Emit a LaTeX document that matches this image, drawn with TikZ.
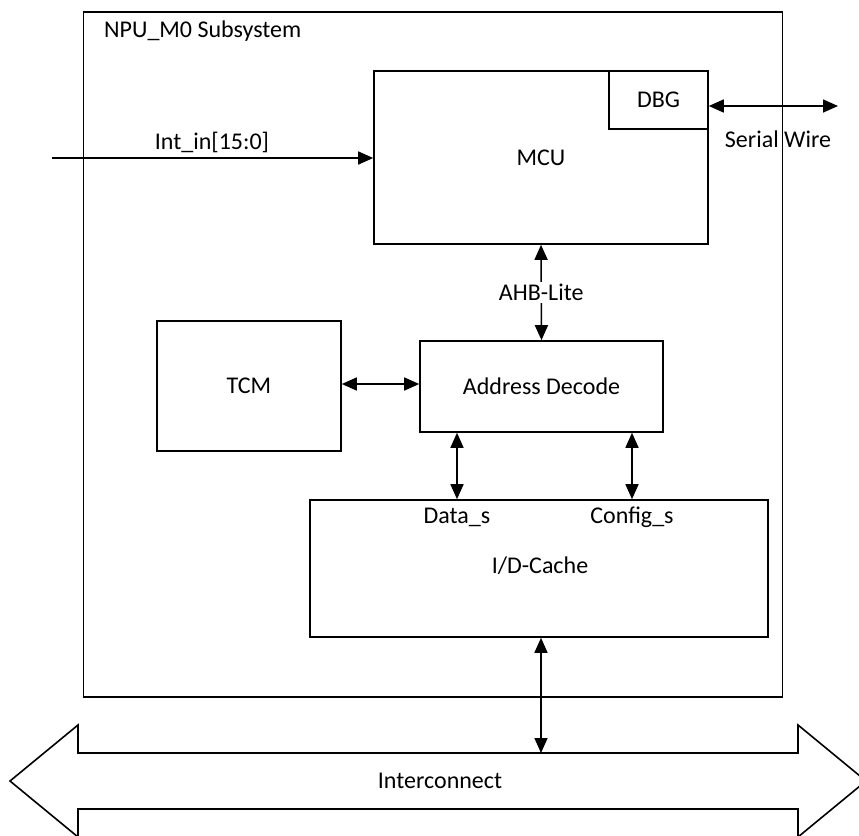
\documentclass[tikz,border=0pt]{standalone}
\usepackage{fontspec}
\setmainfont{Carlito}
\usetikzlibrary{arrows.meta}
\begin{document}
\begin{tikzpicture}[x=1pt,y=-1pt,
  every node/.style={font=\fontsize{24}{28}\selectfont},
  blk/.style={draw,line width=1.6pt,inner sep=0pt},
  conn/.style={line width=1.6pt,{Triangle[length=15pt,width=13pt]}-{Triangle[length=15pt,width=13pt]}},
  oneway/.style={line width=1.6pt,-{Triangle[length=15pt,width=13pt]}},
  lbl/.style={inner sep=1pt}]
\useasboundingbox (0,0) rectangle (859,835);
\clip (0,0) rectangle (859,835);
% outer subsystem box
\node[blk,minimum width=699pt,minimum height=685pt] (sub) at (433,354.5) {};
\node[lbl,anchor=west] (subl) at (103,31) {NPU\_M0 Subsystem};
% blocks
\node[blk,minimum width=334pt,minimum height=173pt] (mcu) at (541,157.5) {MCU};
\node[blk,minimum width=99pt,minimum height=58pt] (dbg) at (658.5,100) {DBG};
\node[blk,minimum width=243pt,minimum height=91pt] (ad) at (541.5,386.5) {Address Decode};
\node[blk,minimum width=184pt,minimum height=130pt] (tcm) at (249,386) {TCM};
\node[blk,minimum width=458pt,minimum height=137pt] (cache) at (539,568.5) {};
\node[lbl] (cachel) at (540,566) {I/D-Cache};
\node[lbl] (datal) at (457,517) {Data\_s};
\node[lbl] (cfgl) at (632,517) {Config\_s};
% interconnect big double arrow
\draw[line width=1.6pt,line join=miter] (78,753) -- (798,753) -- (798,725) -- (866,781) -- (798,837) -- (798,809)
  -- (78,809) -- (78,837) -- (10,781) -- (78,725) -- cycle;
\node[lbl] (ic) at (440,781) {Interconnect};
\coordinate (ictop) at (541,753);
% connectors
\coordinate (intsrc) at (52,158);
\draw[oneway] (intsrc) -- (intsrc -| mcu.west);
\node[lbl] (intl) at (212,142) {Int\_in[15:0]};
\coordinate (swend) at (838,106);
\draw[conn] (swend -| dbg.east) -- (swend);
\node[lbl] (swl) at (778,139) {Serial Wire};
\draw[conn] (mcu.south) -- node[fill=white,inner sep=2pt] (ahb) {AHB-Lite} (ad.north);
\draw[conn] (tcm.east |- 0,384) -- (ad.west |- 0,384);
\draw[conn] (datal |- ad.south) -- (datal |- cache.north);
\draw[conn] (cfgl |- ad.south) -- (cfgl |- cache.north);
\draw[conn] (ictop |- cache.south) -- (ictop);
\end{tikzpicture}
\end{document}
